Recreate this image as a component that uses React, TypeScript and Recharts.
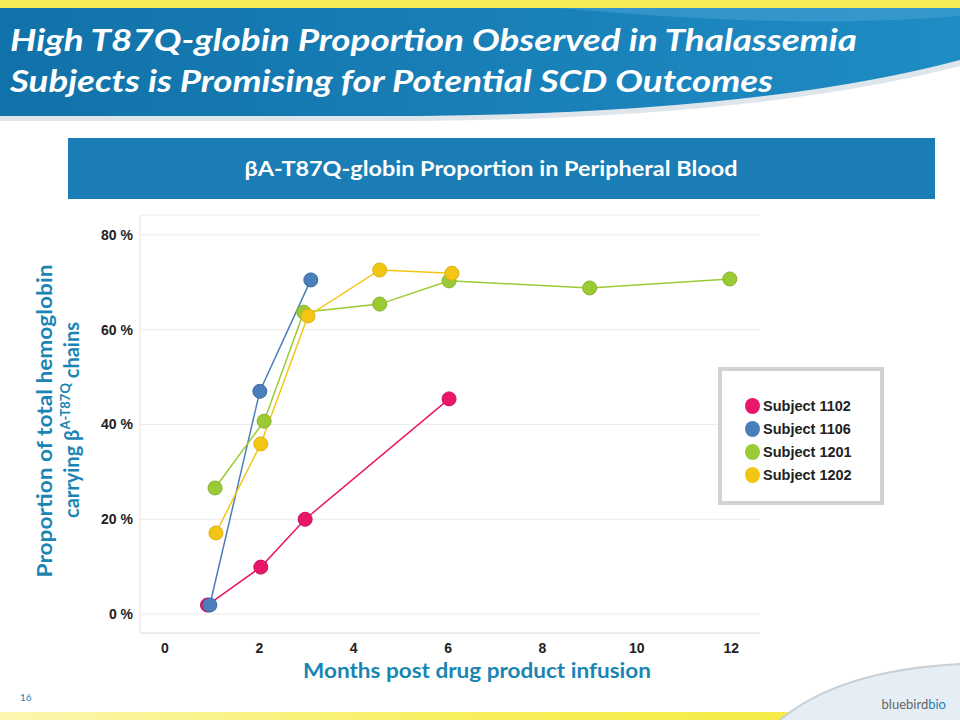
import { CartesianGrid, Line, LineChart, XAxis, YAxis } from "recharts";

// months post infusion / % of total hemoglobin
const s1102Months = [0.9, 2.03, 2.97, 6.02];
const s1102Values = [1.9, 9.9, 20.0, 45.4];
const s1106Months = [0.95, 2.01, 3.09];
const s1106Values = [1.9, 47.0, 70.5];
const s1201Months = [1.06, 2.1, 2.94, 4.55, 6.02, 9.0, 11.97];
const s1201Values = [26.6, 40.7, 63.7, 65.4, 70.3, 68.8, 70.7];
const s1202Months = [1.08, 2.03, 3.03, 4.55, 6.08];
const s1202Values = [17.1, 35.9, 62.9, 72.6, 71.9];

const xTicks = [0, 2, 4, 6, 8, 10, 12];
const yTicks = [0, 20, 40, 60, 80];

const toRows = (months: number[], values: number[]) =>
  months.map((m, i) => ({ month: m, value: values[i] }));

const SERIES = [
  { name: "Subject 1102", data: toRows(s1102Months, s1102Values), color: "#e8176a", edge: "#c9125a" },
  { name: "Subject 1106", data: toRows(s1106Months, s1106Values), color: "#4a7fbb", edge: "#3a6aa0" },
  { name: "Subject 1201", data: toRows(s1201Months, s1201Values), color: "#9acb34", edge: "#86b22a" },
  { name: "Subject 1202", data: toRows(s1202Months, s1202Values), color: "#f3c614", edge: "#dcb010" },
];

const TEAL = "#1a85b3";
const TICK = { fill: "#222", fontSize: 14, fontWeight: 700, fontFamily: "'Liberation Sans', Arial, sans-serif" };

// legend sits in its own box over the chart, like the slide
function LegendBox() {
  return (
    <div
      style={{
        position: "absolute",
        left: 718,
        top: 367,
        width: 158,
        height: 130,
        border: "4px solid #d2d2d2",
        background: "#fff",
      }}
    >
      <div style={{ paddingTop: 23, paddingLeft: 23 }}>
        {SERIES.map((s) => (
          <div key={s.name} style={{ display: "flex", alignItems: "center", height: 23 }}>
            <span
              style={{
                width: 15,
                height: 16,
                borderRadius: "50%",
                background: s.color,
                display: "inline-block",
                marginRight: 3,
              }}
            />
            <span
              style={{
                fontFamily: "'Liberation Sans', Arial, sans-serif",
                fontWeight: 700,
                fontSize: 14.5,
                color: "#222",
              }}
            >
              {s.name}
            </span>
          </div>
        ))}
      </div>
    </div>
  );
}

function Slide() {
  return (
    <svg width={960} height={720} style={{ position: "absolute", left: 0, top: 0 }}>
      <defs>
        <linearGradient id="hdr" x1="0" y1="0" x2="1" y2="0">
          <stop offset="0" stopColor="#1172a9" />
          <stop offset="1" stopColor="#1f8cc4" />
        </linearGradient>
        <linearGradient id="foot" x1="0" y1="0" x2="1" y2="0">
          <stop offset="0" stopColor="#fbf7b0" />
          <stop offset="0.5" stopColor="#f7ef5a" />
          <stop offset="1" stopColor="#f3e93c" />
        </linearGradient>
      </defs>
      <rect x={0} y={0} width={960} height={720} fill="#fff" />
      <rect x={0} y={0} width={960} height={8} fill="#f5ec55" />
      <path d="M0,121 L420,121 Q760,118 960,66 L960,8 L0,8 Z" fill="#c9d6de" opacity={0.6} />
      <path d="M0,116 L420,116 Q760,113 960,60 L960,8 L0,8 Z" fill="url(#hdr)" />
      <path d="M560,8 Q800,30 960,16 L960,8 Z" fill="#4aa6d6" opacity={0.5} />
      <g fontFamily="Lato, 'Open Sans', sans-serif" fontWeight={700} fontStyle="italic" fill="#fff" fontSize={31}>
        <text x={10} y={51} textLength={847} lengthAdjust="spacingAndGlyphs">
          High T87Q-globin  Proportion Observed in Thalassemia
        </text>
        <text x={10} y={92} textLength={763} lengthAdjust="spacingAndGlyphs">
          Subjects is Promising for Potential SCD Outcomes
        </text>
      </g>
      <rect x={68} y={138} width={867} height={61} fill="#1a7db5" />
      <text
        x={491}
        y={176}
        textAnchor="middle"
        fill="#fff"
        fontFamily="Lato, 'Open Sans', sans-serif"
        fontWeight={700}
        fontSize={21}
        textLength={493}
        lengthAdjust="spacingAndGlyphs"
      >
        βA-T87Q-globin Proportion in Peripheral Blood
      </text>
      <g fontFamily="Lato, 'Open Sans', sans-serif" fontWeight={700} fill={TEAL} fontSize={20}>
        <text
          transform="translate(52,421) rotate(-90)"
          textAnchor="middle"
          textLength={313}
          lengthAdjust="spacingAndGlyphs"
        >
          Proportion of total hemoglobin
        </text>
        <text transform="translate(79,420) rotate(-90)" textAnchor="middle">
          carrying β
          <tspan fontSize={13} dy={-9}>A-T87Q</tspan>
          <tspan dy={9}> chains</tspan>
        </text>
        <text x={477} y={678} textAnchor="middle" textLength={348} lengthAdjust="spacingAndGlyphs">
          Months post drug product infusion
        </text>
      </g>
      <text x={20} y={701} fill={TEAL} fontFamily="Lato, sans-serif" fontSize={10}>
        16
      </text>
      <rect x={0} y={712} width={960} height={8} fill="url(#foot)" />
      <path d="M780,720 Q840,670 960,664 L960,720 Z" fill="#e4eef4" />
      <path d="M780,720 Q840,670 960,664" fill="none" stroke="#c9cfd3" strokeWidth={2} />
      <text x={946} y={709} textAnchor="end" fontFamily="Lato, sans-serif" fontSize={13}>
        <tspan fill="#666">bluebird</tspan>
        <tspan fill="#2a7fb8">bio</tspan>
      </text>
    </svg>
  );
}

export default function App() {
  return (
    <div style={{ position: "absolute", left: 0, top: 0, width: 960, height: 720, overflow: "hidden" }}>
      <Slide />
      <div style={{ position: "absolute", left: 60, top: 200 }}>
        <LineChart width={720} height={460} margin={{ top: 15, right: 20, bottom: 0, left: 0 }}>
          <CartesianGrid horizontal vertical={false} stroke="#ececec" />
          <XAxis
            type="number"
            dataKey="month"
            domain={[-0.53, 12.61]}
            ticks={xTicks}
            allowDataOverflow
            height={27}
            tickLine={false}
            axisLine={{ stroke: "#e4e4e4" }}
            tick={TICK}
            tickMargin={4}
          />
          <YAxis
            type="number"
            dataKey="value"
            domain={[-4, 84.2]}
            ticks={yTicks}
            allowDataOverflow
            width={80}
            tickLine={false}
            axisLine={{ stroke: "#e4e4e4" }}
            tickFormatter={(v: number) => `${v} %`}
            tick={TICK}
            tickMargin={1}
          />
          {SERIES.map((s) => (
            <Line
              key={s.name}
              name={s.name}
              data={s.data}
              dataKey="value"
              type="linear"
              stroke={s.color}
              strokeWidth={1.5}
              dot={{ r: 7, fill: s.color, stroke: s.edge, strokeWidth: 1 }}
              activeDot={false}
              isAnimationActive={false}
            />
          ))}
        </LineChart>
      </div>
      <LegendBox />
    </div>
  );
}
